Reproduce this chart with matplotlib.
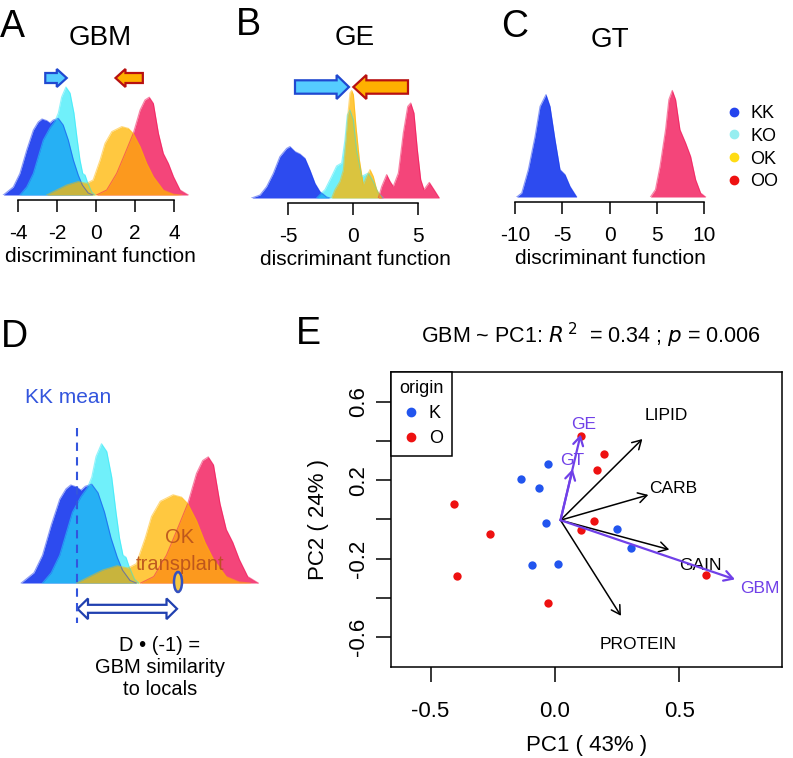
import numpy as np
import matplotlib
matplotlib.use('Agg')
import matplotlib.pyplot as plt
import matplotlib.patches as mpatches
from matplotlib.lines import Line2D

plt.rcParams['font.family'] = ['Liberation Sans', 'DejaVu Sans']

W, H, DPI = 793, 758, 100

# ---------------- data ----------------
groups = ['KK', 'KO', 'OK', 'OO']
legend_colors = ['#2444ee', '#96eef0', '#ffdc14', '#ee1111']
fill_colors = {'KK': '#1637ee', 'KO': '#23e8f8', 'OK': '#ffb600', 'OO': '#f1074d'}
fill_alpha = {'KK': 0.9, 'KO': 0.65, 'OK': 0.75, 'OO': 0.75}
draw_order = ['KK', 'KO', 'OO', 'OK']

# Panel A: GBM discriminant function densities
gbm_x = {
    'KK': [-4.75, -4.24, -3.90, -3.55, -3.21, -2.96, -2.77, -2.53, -2.36, -2.19, -1.93, -1.68, -1.42, -1.16, -0.91, -0.70, -0.40, -0.15],
    'KO': [-3.90, -3.55, -3.21, -2.96, -2.70, -2.36, -2.10, -1.93, -1.76, -1.54, -1.33, -1.13, -0.96, -0.82, -0.68, -0.56, -0.44, -0.22, -0.05],
    'OK': [-2.53, -2.02, -1.50, -0.92, -0.48, -0.15, 0.21, 0.46, 0.81, 1.32, 1.66, 1.91, 2.26, 2.60, 2.94, 3.45, 3.97, 4.40],
    'OO': [0.03, 0.55, 1.06, 1.49, 1.91, 2.26, 2.51, 2.73, 2.94, 3.20, 3.45, 3.71, 3.97, 4.31, 4.73],
}
gbm_d = {
    'KK': [0, 0.04, 0.108, 0.225, 0.325, 0.365, 0.38, 0.372, 0.36, 0.375, 0.383, 0.35, 0.275, 0.175, 0.10, 0.05, 0.01, 0],
    'KO': [0, 0.04, 0.108, 0.19, 0.275, 0.335, 0.37, 0.41, 0.49, 0.54, 0.51, 0.41, 0.275, 0.175, 0.108, 0.10, 0.065, 0.015, 0],
    'OK': [0, 0.025, 0.05, 0.067, 0.058, 0.075, 0.175, 0.258, 0.317, 0.342, 0.333, 0.308, 0.242, 0.158, 0.092, 0.025, 0.004, 0],
    'OO': [0, 0.025, 0.108, 0.208, 0.308, 0.425, 0.475, 0.489, 0.458, 0.308, 0.208, 0.158, 0.092, 0.025, 0],
}
# Panel B: GE
ge_x = {
    'KK': [-7.79, -7.15, -6.64, -6.13, -5.62, -5.10, -4.85, -4.46, -4.08, -3.69, -3.31, -2.92, -2.54, -2.03, -1.77],
    'KO': [-2.79, -2.15, -1.64, -1.26, -0.87, -0.62, -0.44, -0.23, 0.03, 0.28, 0.67, 1.18, 1.56, 1.95, 2.33],
    'OK': [-1.64, -1.38, -1.00, -0.74, -0.54, -0.36, -0.23, -0.10, 0.03, 0.23, 0.49, 0.79, 1.05, 1.31, 1.56, 1.82, 2.20],
    'OO': [1.95, 2.21, 2.59, 2.85, 3.10, 3.49, 3.87, 4.21, 4.44, 4.69, 4.95, 5.21, 5.46, 5.87, 6.23, 6.64],
}
ge_d = {
    'KK': [0, 0.015, 0.057, 0.123, 0.207, 0.248, 0.257, 0.232, 0.22, 0.198, 0.14, 0.073, 0.032, 0.005, 0],
    'KO': [0, 0.042, 0.108, 0.16, 0.175, 0.29, 0.415, 0.44, 0.39, 0.24, 0.108, 0.125, 0.083, 0.025, 0],
    'OK': [0, 0.042, 0.083, 0.14, 0.29, 0.44, 0.525, 0.538, 0.517, 0.358, 0.192, 0.067, 0.108, 0.142, 0.108, 0.042, 0],
    'OO': [0, 0.058, 0.117, 0.083, 0.058, 0.125, 0.325, 0.458, 0.475, 0.425, 0.242, 0.092, 0.042, 0.078, 0.042, 0],
}
# Panel C: GT
gt_x = {
    'KK': [-9.82, -9.29, -8.59, -7.88, -7.35, -6.72, -6.30, -5.77, -5.24, -4.71, -4.18, -3.47],
    'OO': [4.33, 4.86, 5.34, 5.93, 6.28, 6.64, 6.99, 7.45, 8.05, 8.58, 9.11, 9.64, 10.17],
}
gt_d = {
    'KK': [0, 0.02, 0.137, 0.303, 0.453, 0.512, 0.453, 0.287, 0.137, 0.112, 0.053, 0],
    'OO': [0, 0.037, 0.153, 0.337, 0.487, 0.533, 0.487, 0.337, 0.27, 0.203, 0.087, 0.02, 0],
}
gbm_ticks = [-4, -2, 0, 2, 4]
ge_ticks = [-5, 0, 5]
gt_ticks = [-10, -5, 0, 5, 10]

KK_MEAN_GBM = -2.54
OK_TRANSPLANT = 1.52

# Panel E: PCA
k_pc1 = [-0.027, -0.137, -0.063, -0.037, 0.250, 0.304, -0.094, 0.013]
k_pc2 = [0.281, 0.205, 0.159, -0.019, -0.051, -0.146, -0.235, -0.225]
o_pc1 = [0.103, 0.196, 0.170, -0.404, 0.155, 0.103, -0.261, -0.392, 0.606, -0.030]
o_pc2 = [0.426, 0.333, 0.254, 0.078, -0.010, -0.054, -0.075, -0.291, -0.286, -0.425]
vec_origin = (0.022, -0.004)
diet_names = ['LIPID', 'CARB', 'GAIN', 'PROTEIN']
diet_end = [(0.351, 0.410), (0.375, 0.125), (0.459, -0.154), (0.265, -0.492)]
diet_lab = [(0.446, 0.531), (0.475, 0.159), (0.586, -0.235), (0.335, -0.636)]
trait_names = ['GE', 'GT', 'GBM']
trait_end = [(0.103, 0.433), (0.071, 0.257), (0.723, -0.306)]
trait_lab = [(0.114, 0.486), (0.071, 0.303), (0.823, -0.352)]
pc1_ticks = [-0.5, 0.0, 0.5]
pc2_ticks = [0.6, 0.4, 0.2, 0.0, -0.2, -0.4, -0.6]
pc2_labels = ['0.6', '', '0.2', '', '-0.2', '', '-0.6']

# ---------------- helpers ----------------
fig = plt.figure(figsize=(W / DPI, H / DPI), dpi=DPI)


def rect(l, t, r, b):
    return [l / W, 1 - b / H, (r - l) / W, (b - t) / H]


def draw_densities(ax, xs, ds):
    for g in draw_order:
        if g not in xs:
            continue
        ax.fill_between(xs[g], ds[g], 0, color=fill_colors[g], alpha=fill_alpha[g], lw=0)
        ax.plot(xs[g], ds[g], color=fill_colors[g], alpha=0.5, lw=0.8)


def r_axis(ax, ticks):
    for s in ['top', 'right', 'left']:
        ax.spines[s].set_visible(False)
    ax.spines['bottom'].set_position(('outward', 3.6))
    ax.spines['bottom'].set_bounds(ticks[0], ticks[-1])
    ax.spines['bottom'].set_linewidth(1.1)
    ax.set_xticks(ticks)
    ax.set_xticklabels([str(t) for t in ticks])
    ax.set_yticks([])
    ax.tick_params(axis='x', direction='out', length=8.6, width=1.1, pad=9, labelsize=15)
    ax.set_xlabel('discriminant function', fontsize=15, labelpad=2.5)
    ax.patch.set_alpha(0)


def harrow(ax, x0, x1, y, w, hw, hl, fc, ec):
    ax.add_patch(mpatches.FancyArrow(x0, y, x1 - x0, 0, width=w, head_width=hw, head_length=hl,
                                     length_includes_head=True, fc=fc, ec=ec, lw=1.6, clip_on=False))


cyan_fc, cyan_ec = '#55ccff', '#2048d0'
org_fc, org_ec = '#ffb000', '#b81010'

# ---------------- Panel A ----------------
axA = fig.add_axes(rect(0, 60, 200, 195))
draw_densities(axA, gbm_x, gbm_d)
axA.set_xlim(-4.92, 5.33)
axA.set_ylim(0, 0.675)
r_axis(axA, gbm_ticks)
axA.set_title('GBM', fontsize=20, pad=10.8)
harrow(axA, -2.6, -1.5, 0.585, 0.05, 0.09, 0.51, cyan_fc, cyan_ec)
harrow(axA, 2.4, 1.0, 0.585, 0.05, 0.09, 0.51, org_fc, org_ec)

# ---------------- Panel B ----------------
axB = fig.add_axes(rect(240, 63, 470, 198))
draw_densities(axB, ge_x, ge_d)
axB.set_xlim(-8.69, 9.0)
axB.set_ylim(0, 0.675)
r_axis(axB, ge_ticks)
axB.set_title('GE', fontsize=20, pad=13)
harrow(axB, -4.46, -0.31, 0.555, 0.067, 0.12, 0.95, cyan_fc, cyan_ec)
harrow(axB, 4.23, 0.03, 0.555, 0.067, 0.12, 1.0, org_fc, org_ec)

# ---------------- Panel C ----------------
axC = fig.add_axes(rect(505, 62, 715, 197))
draw_densities(axC, gt_x, gt_d)
axC.set_xlim(-11.06, 11.16)
axC.set_ylim(0, 0.675)
r_axis(axC, gt_ticks)
axC.set_title('GT', fontsize=20, pad=10.8)

handles = [Line2D([], [], marker='o', ls='none', color=c, markersize=6) for c in legend_colors]
fig.legend(handles, groups, loc='upper left', bbox_to_anchor=(714 / W, 1 - 96 / H), frameon=False,
           fontsize=13, handletextpad=0.3, labelspacing=0.32, handlelength=1.2, borderpad=0)

# ---------------- Panel D ----------------
axD = fig.add_axes(rect(10, 380, 270, 700))
draw_densities(axD, gbm_x, gbm_d)
axD.set_xlim(-5.2, 5.2)
axD.set_ylim(-0.4535, 0.787)
axD.axis('off')
axD.plot([KK_MEAN_GBM, KK_MEAN_GBM], [0.60, -0.155], color='#3355dd', lw=1.5, dashes=(4, 3))
axD.text(-2.88, 0.72, 'KK mean', color='#3355dd', fontsize=15, ha='center', va='center')
axD.text(1.6, 0.125, 'OK\ntransplant', color='#b8501c', alpha=0.9, fontsize=14.5, ha='center',
         va='center', linespacing=1.5)
axD.add_patch(mpatches.Ellipse((OK_TRANSPLANT, 0.004), 0.32, 0.0775, fc='#f5c842', ec='#3350c0', lw=1.8))
x0, x1, yy = KK_MEAN_GBM + 0.04, 1.48, -0.10
sh, hh, hl = 0.0155, 0.04, 0.42
verts = [(x0, yy), (x0 + hl, yy + hh), (x0 + hl, yy + sh), (x1 - hl, yy + sh), (x1 - hl, yy + hh),
         (x1, yy), (x1 - hl, yy - hh), (x1 - hl, yy - sh), (x0 + hl, yy - sh), (x0 + hl, yy - hh)]
axD.add_patch(mpatches.Polygon(verts, closed=True, fc='white', ec='#2040b0', lw=1.6))
axD.text(0.8, -0.205, 'D \u2022 (-1) =\nGBM similarity\nto locals', fontsize=14.5, ha='center', va='top',
         linespacing=1.2)

# ---------------- Panel E ----------------
axE = fig.add_axes(rect(391, 372, 782, 667))
purple = '#7040e8'
axE.scatter(k_pc1, k_pc2, s=36, color='#2255ee', zorder=3, linewidths=0)
axE.scatter(o_pc1, o_pc2, s=36, color='#ee1111', zorder=3, linewidths=0)
for name, e, lab in zip(diet_names, diet_end, diet_lab):
    axE.annotate('', xy=e, xytext=vec_origin,
                 arrowprops=dict(arrowstyle='->,head_length=0.62,head_width=0.36', color='black', lw=1.1,
                                 shrinkA=0, shrinkB=0))
    axE.text(lab[0], lab[1], name, fontsize=12.5, ha='center', va='center')
for name, e, lab in zip(trait_names, trait_end, trait_lab):
    axE.annotate('', xy=e, xytext=vec_origin,
                 arrowprops=dict(arrowstyle='->,head_length=0.62,head_width=0.36', color=purple, lw=1.6,
                                 shrinkA=0, shrinkB=0), zorder=4)
    axE.text(lab[0], lab[1], name, fontsize=12.5, ha='center', va='center', color=purple, zorder=5)
axE.set_xlim(-0.659, 0.912)
axE.set_ylim(-0.753, 0.752)
axE.set_xticks(pc1_ticks)
axE.set_xticklabels(['-0.5', '0.0', '0.5'])
axE.set_yticks(pc2_ticks)
axE.set_yticklabels(pc2_labels, rotation=90, va='center')
axE.tick_params(direction='out', length=10.5, width=1.1, labelsize=16)
axE.tick_params(axis='x', pad=14)
axE.tick_params(axis='y', pad=5)
for s in axE.spines.values():
    s.set_linewidth(1.1)
axE.set_xlabel('PC1 ( 43% )', fontsize=16, labelpad=9)
axE.set_ylabel('PC2 ( 24% )', fontsize=16, labelpad=14)
axE.set_title(r'GBM ~ PC1: $R^{\,2}$  = 0.34 ; $p$ = 0.006', fontsize=15.5, pad=20.5, x=0.512)
lh = [Line2D([], [], marker='o', ls='none', color='#2255ee', markersize=6),
      Line2D([], [], marker='o', ls='none', color='#ee1111', markersize=6)]
leg = axE.legend(lh, ['K', 'O'], title='origin', loc='upper left', borderaxespad=0, fancybox=False,
                 edgecolor='black', framealpha=1, fontsize=13, title_fontsize=13, handlelength=1.2,
                 handletextpad=0.4, labelspacing=0.45, borderpad=0.45)
leg.get_frame().set_linewidth(1.1)

# ---------------- Panel letters ----------------
for lt, x, y in [('A', 12, 27), ('B', 248, 25), ('C', 515, 27), ('D', 14, 337), ('E', 308, 334)]:
    fig.text(x / W, 1 - y / H, lt, fontsize=27, ha='center', va='center')

fig.savefig('out.png', dpi=DPI)
